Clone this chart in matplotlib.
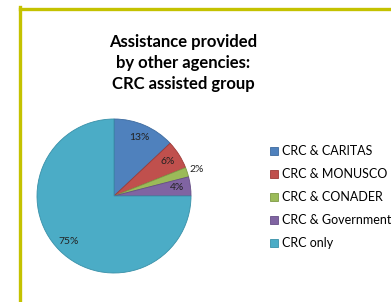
import matplotlib
matplotlib.use("Agg")
import matplotlib.pyplot as plt
from matplotlib.lines import Line2D
import numpy as np

categories = ["CRC & CARITAS", "CRC & MONUSCO", "CRC & CONADER", "CRC & Government", "CRC only"]
values = [13, 6, 2, 4, 75]
colors = ["#4F81BD", "#C0504D", "#9BBB59", "#8064A2", "#4BACC6"]
edges = ["#3C6A9E", "#9E3A37", "#7E9A45", "#664E86", "#3890A8"]
title_lines = ["Assistance provided", "by other agencies:", "CRC assisted group"]

plt.rcParams['font.family'] = ['Lato', 'DejaVu Sans']

W, H = 391, 302
fig = plt.figure(figsize=(W / 100, H / 100), dpi=100)
fig.patch.set_facecolor("white")

# border (left and top)
border = "#C4C200"
fig.add_artist(Line2D([19.5 / W, 19.5 / W], [0, 1 - 7 / H], color=border, lw=2.4,
                      transform=fig.transFigure, solid_capstyle='projecting'))
fig.add_artist(Line2D([19.5 / W, 1], [1 - 8.5 / H, 1 - 8.5 / H], color=border, lw=2.4,
                      transform=fig.transFigure, solid_capstyle='projecting'))

# title
fig.text(183 / W, 1 - 63 / H, "\n".join(title_lines), ha="center", va="center",
         fontsize=12, fontweight="bold", linespacing=1.35, color="#000000")

# pie
cx, cy, r = 114, 196, 77
ax = fig.add_axes([(cx - r) / W, (H - cy - r) / H, 2 * r / W, 2 * r / H])
wedges, texts, autotexts = ax.pie(values, colors=colors, startangle=90, counterclock=False,
                                  autopct=lambda p: f"{p:.0f}%", pctdistance=0.83,
                                  wedgeprops=dict(linewidth=0.6),
                                  textprops=dict(fontsize=7.5, color="#222222"))
for w, e in zip(wedges, edges):
    w.set_edgecolor(e)
    w.set_clip_on(False)
ax.set_xlim(-1, 1)
ax.set_ylim(-1, 1)
ax.set_aspect("auto")
ax.axis("off")

# move small-slice label outside
for w, t, v in zip(wedges, autotexts, values):
    if v <= 2:
        ang = np.deg2rad((w.theta1 + w.theta2) / 2)
        t.set_position((1.13 * np.cos(ang), 1.13 * np.sin(ang)))

leg = fig.legend(wedges, categories, loc="upper left",
                 bbox_to_anchor=(270 / W, 1 - 145 / H), frameon=False,
                 fontsize=9, handlelength=0.6, handleheight=0.6, handletextpad=0.4,
                 labelspacing=0.88, borderpad=0, borderaxespad=0)

fig.savefig("out.png", dpi=100, facecolor="white")
